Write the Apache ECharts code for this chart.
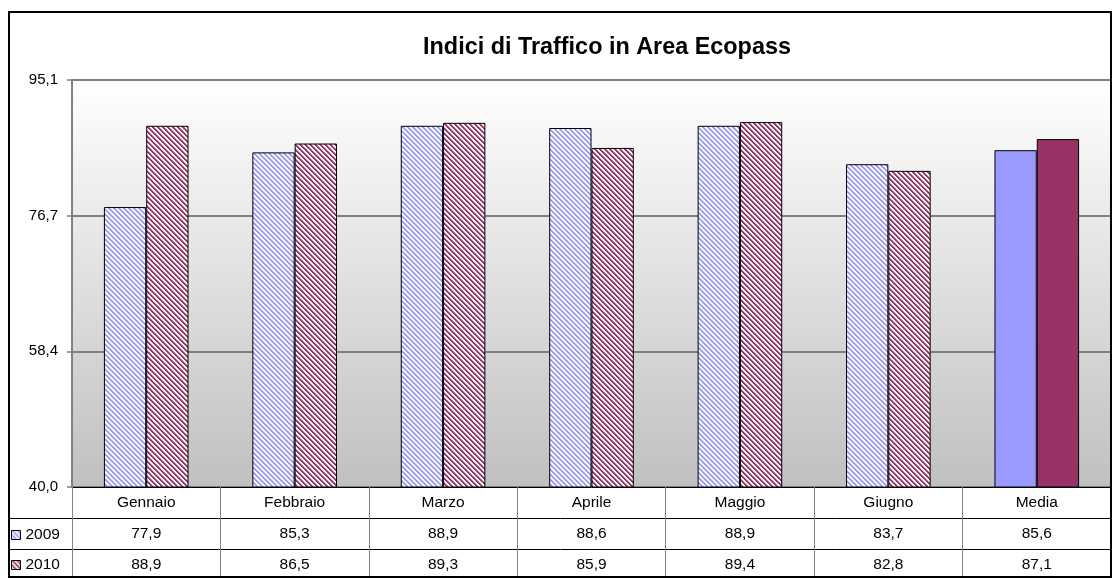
<!DOCTYPE html>
<html>
<head>
<meta charset="utf-8">
<script src="https://cdn.jsdelivr.net/npm/echarts@6/dist/echarts.min.js"></script>
<style>
  html, body { margin: 0; padding: 0; background: #ffffff; }
  #chart { width: 1112px; height: 578px; }
</style>
</head>
<body>
<div id="chart"></div>
<script>
// Traffic indices inside the Ecopass zone, monthly and average
const categories = ['Gennaio', 'Febbraio', 'Marzo', 'Aprile', 'Maggio', 'Giugno', 'Media'];
const seriesNames = ['2009', '2010'];
const values2009 = [77.9, 85.3, 88.9, 88.6, 88.9, 83.7, 85.6];
const values2010 = [88.9, 86.5, 89.3, 85.9, 89.4, 82.8, 87.1];
const yTickLabels = ['40,0', '58,4', '76,7', '95,1'];
const averageCategory = 'Media';

const yMin = parseFloat(yTickLabels[0].replace(',', '.'));
const yMax = parseFloat(yTickLabels[yTickLabels.length - 1].replace(',', '.'));
const yStep = (yMax - yMin) / (yTickLabels.length - 1);

const fmt = v => v.toFixed(1).replace('.', ',');
const FONT = 'Liberation Sans, Arial, sans-serif';

// Diagonal hatch tile: coloured stripes on white running top-left to bottom-right
function hatch(color, period) {
  const c = document.createElement('canvas');
  c.width = period; c.height = period;
  const ctx = c.getContext('2d');
  ctx.fillStyle = '#ffffff';
  ctx.fillRect(0, 0, period, period);
  for (let y = 0; y < period; y++) {
    for (let x = 0; x < period; x++) {
      const d = ((x - y) % period + period) % period;
      if (d < 2) {
        ctx.globalAlpha = 1;
      } else if (d === 2) {
        ctx.globalAlpha = 0.5;
      } else {
        continue;
      }
      ctx.fillStyle = color;
      ctx.fillRect(x, y, 1, 1);
    }
  }
  return { image: c, repeat: 'repeat' };
}

const colors = { '2009': '#9999ff', '2010': '#993366' };

function buildSeries(name, values) {
  return {
    name: name,
    type: 'bar',
    xAxisIndex: 0,
    barGap: '0%',
    barCategoryGap: '43%',
    itemStyle: { color: hatch(colors[name], 5), borderColor: '#000000', borderWidth: 1 },
    emphasis: { disabled: true },
    data: values.map((v, i) => categories[i] === averageCategory
      ? { value: v, itemStyle: { color: colors[name] } }
      : v)
  };
}

const gridLeft = 72, gridRight = 1111, gridTop = 80, gridBottom = 487;
const rowH = 31;

function tableAxis(data, offset, tickLen) {
  return {
    type: 'category',
    data: data,
    position: 'bottom',
    offset: offset,
    boundaryGap: true,
    axisLine: { show: false },
    axisTick: { show: true, length: tickLen, interval: 0, lineStyle: { color: '#808080', width: 1 } },
    axisLabel: { interval: 0, margin: 8, color: '#000000', fontSize: 15.5, fontFamily: FONT },
    splitLine: { show: false }
  };
}

// one legend key per table row
function rowLegend(name, top) {
  return {
    data: [name],
    left: 11, top: top,
    itemWidth: 9, itemHeight: 9, itemGap: 5,
    icon: 'rect',
    selectedMode: false,
    padding: 0,
    itemStyle: { borderColor: '#000000', borderWidth: 1 },
    textStyle: { fontSize: 15.5, color: '#000000', fontFamily: FONT }
  };
}

const chart = echarts.init(document.getElementById('chart'), null, { renderer: 'canvas' });

chart.setOption({
  animation: false,
  backgroundColor: '#ffffff',
  title: {
    text: 'Indici di Traffico in Area Ecopass',
    left: 602, top: 31, textAlign: 'center',
    textStyle: { fontSize: 23.4, fontWeight: 'bold', color: '#000000', fontFamily: FONT }
  },
  legend: [
    rowLegend(seriesNames[0], gridBottom + rowH + 9),
    rowLegend(seriesNames[1], gridBottom + rowH * 2 + 8)
  ],
  grid: {
    left: gridLeft, right: 1112 - gridRight, top: gridTop, bottom: 578 - gridBottom,
    containLabel: false, outerBoundsMode: 'none',
    show: true,
    borderWidth: 0,
    backgroundColor: new echarts.graphic.LinearGradient(0, 0, 0, 1, [
      { offset: 0, color: '#ffffff' },
      { offset: 1, color: '#c0c0c0' }
    ])
  },
  xAxis: [
    Object.assign(tableAxis(categories, 0, rowH), {
      axisLine: { show: true, lineStyle: { color: '#000000', width: 1 } }
    }),
    tableAxis(values2009.map(fmt), rowH, rowH),
    tableAxis(values2010.map(fmt), rowH * 2, 28)
  ],
  yAxis: {
    type: 'value',
    min: yMin, max: yMax, interval: yStep,
    axisLine: { show: true, lineStyle: { color: '#808080', width: 2 } },
    axisTick: { show: true, length: 5, lineStyle: { color: '#808080', width: 1.5 } },
    axisLabel: {
      margin: 14, color: '#000000', fontSize: 15, fontFamily: FONT,
      formatter: v => fmt(v)
    },
    splitLine: { show: true, lineStyle: { color: '#808080', width: 2 } }
  },
  series: [
    buildSeries(seriesNames[0], values2009),
    buildSeries(seriesNames[1], values2010)
  ],
  graphic: [
    // table row rules spanning the legend column
    { type: 'line', shape: { x1: 10, y1: gridBottom + rowH + 0.5, x2: gridRight, y2: gridBottom + rowH + 0.5 }, style: { stroke: '#000000', lineWidth: 1 }, silent: true },
    { type: 'line', shape: { x1: 10, y1: gridBottom + rowH * 2 + 0.5, x2: gridRight, y2: gridBottom + rowH * 2 + 0.5 }, style: { stroke: '#000000', lineWidth: 1 }, silent: true },
    // right edge of the plot area
    { type: 'line', shape: { x1: gridRight - 0.5, y1: gridTop, x2: gridRight - 0.5, y2: gridBottom }, style: { stroke: '#c0c0c0', lineWidth: 1 }, silent: true },
    // outer chart border
    { type: 'rect', shape: { x: 9, y: 12, width: 1102, height: 565 }, style: { fill: null, stroke: '#000000', lineWidth: 2 }, silent: true, z: 100 }
  ]
});
</script>
</body>
</html>
